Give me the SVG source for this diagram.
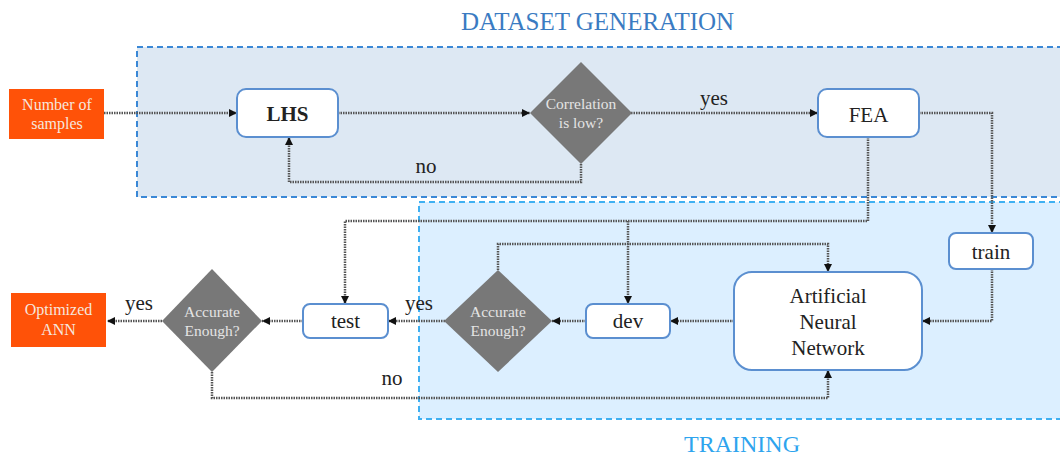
<svg xmlns="http://www.w3.org/2000/svg" width="1060" height="455" viewBox="0 0 1060 455">
<style>
  text{font-family:'Liberation Serif','DejaVu Serif',serif;}
  .box{fill:#fff;stroke:#5b8fd0;stroke-width:2;}
  .dia{fill:#787878;}
  .org{fill:#ff5208;}
  .wt{fill:#f6e6de;font-size:16px;}
  .dt{fill:#e4e4e4;font-size:15.5px;}
  .nt{fill:#222;font-size:21px;}
  .lb{fill:#222;font-size:21px;}
  .c{fill:none;stroke:#555;stroke-width:2.5;stroke-dasharray:1.5 1;marker-end:url(#ah);}
</style>
<defs>
  <marker id="ah" markerUnits="userSpaceOnUse" markerWidth="9" markerHeight="9" refX="8" refY="4.5" orient="auto">
    <path d="M0,0.5 L8,4.5 L0,8.5 Z" fill="#111"/>
  </marker>
</defs>
<rect width="1060" height="455" fill="#fff"/>
<g id="dataset-group">
  <rect x="137" y="47" width="935" height="150" fill="#dde8f3" stroke="#3a88d6" stroke-width="2" stroke-dasharray="6 4"/>
  <text x="597.5" y="30" text-anchor="middle" font-size="25" fill="#3a7bc2">DATASET GENERATION</text>
</g>
<g id="training-group">
  <rect x="419" y="202" width="653" height="217" fill="#dcefff" stroke="#3fb0f2" stroke-width="2" stroke-dasharray="6 4"/>
  <text x="742" y="452" text-anchor="middle" font-size="24" fill="#2ea4ee">TRAINING</text>
</g>
<g id="connectors">
  <path class="c" d="M104,113 H237"/>
  <path class="c" d="M338,113 H530"/>
  <path class="c" d="M631,113 H818"/>
  <path class="c" d="M581,164 V182 H289 V137"/>
  <path class="c" d="M919,113 H992 V233"/>
  <path class="c" d="M868,137 V221 H345 V304"/>
  <path class="c" d="M628,221 V304"/>
  <path class="c" d="M992,269 V321 H922"/>
  <path class="c" d="M734,321 H670"/>
  <path class="c" d="M586,321 H552"/>
  <path class="c" d="M498,270 V244 H828 V272"/>
  <path class="c" d="M445,321 H388"/>
  <path class="c" d="M303,321 H262"/>
  <path class="c" d="M162,321 H107"/>
  <path class="c" d="M212,372 V398 H828 V370"/>
  <text class="lb" x="714" y="105" text-anchor="middle">yes</text>
  <text class="lb" x="426" y="173" text-anchor="middle">no</text>
  <text class="lb" x="419" y="310" text-anchor="middle">yes</text>
  <text class="lb" x="139" y="310" text-anchor="middle">yes</text>
  <text class="lb" x="392" y="385" text-anchor="middle">no</text>
</g>
<g id="num-samples">
  <rect class="org" x="9" y="89" width="95" height="50"/>
  <text class="wt" x="57" y="110" text-anchor="middle">Number of</text>
  <text class="wt" x="57" y="129" text-anchor="middle">samples</text>
</g>
<g id="lhs">
  <rect class="box" x="237" y="89" width="101" height="48" rx="9"/>
  <text class="nt" x="287.5" y="121" text-anchor="middle" font-weight="bold" font-size="18">LHS</text>
</g>
<g id="correlation">
  <polygon class="dia" points="581,62 632,113 581,164 530,113"/>
  <text class="dt" x="581" y="109" text-anchor="middle" font-size="14.5">Correlation</text>
  <text class="dt" x="581" y="128" text-anchor="middle" font-size="14.5">is low?</text>
</g>
<g id="fea">
  <rect class="box" x="818" y="89" width="101" height="48" rx="9"/>
  <text class="nt" x="868.5" y="122" text-anchor="middle">FEA</text>
</g>
<g id="train">
  <rect class="box" x="949" y="233" width="84" height="36" rx="7"/>
  <text class="nt" x="991" y="259" text-anchor="middle">train</text>
</g>
<g id="ann">
  <rect class="box" x="734" y="272" width="188" height="98" rx="18"/>
  <text class="nt" x="828" y="303" text-anchor="middle" font-size="22.5">Artificial</text>
  <text class="nt" x="828" y="329" text-anchor="middle" font-size="22.5">Neural</text>
  <text class="nt" x="828" y="355" text-anchor="middle" font-size="22.5">Network</text>
</g>
<g id="dev">
  <rect class="box" x="586" y="304" width="84" height="34" rx="7"/>
  <text class="nt" x="628" y="328" text-anchor="middle">dev</text>
</g>
<g id="accurate-dev">
  <polygon class="dia" points="498,270 552,321 498,372 444,321"/>
  <text class="dt" x="498" y="317" text-anchor="middle">Accurate</text>
  <text class="dt" x="498" y="336" text-anchor="middle">Enough?</text>
</g>
<g id="test">
  <rect class="box" x="303" y="304" width="85" height="34" rx="7"/>
  <text class="nt" x="345.5" y="328" text-anchor="middle">test</text>
</g>
<g id="accurate-test">
  <polygon class="dia" points="212,269 262,321 212,372 162,321"/>
  <text class="dt" x="212" y="317" text-anchor="middle">Accurate</text>
  <text class="dt" x="212" y="336" text-anchor="middle">Enough?</text>
</g>
<g id="optimized-ann">
  <rect class="org" x="11" y="293" width="95" height="54"/>
  <text class="wt" x="58.5" y="315" text-anchor="middle">Optimized</text>
  <text class="wt" x="58.5" y="335" text-anchor="middle">ANN</text>
</g>
</svg>
